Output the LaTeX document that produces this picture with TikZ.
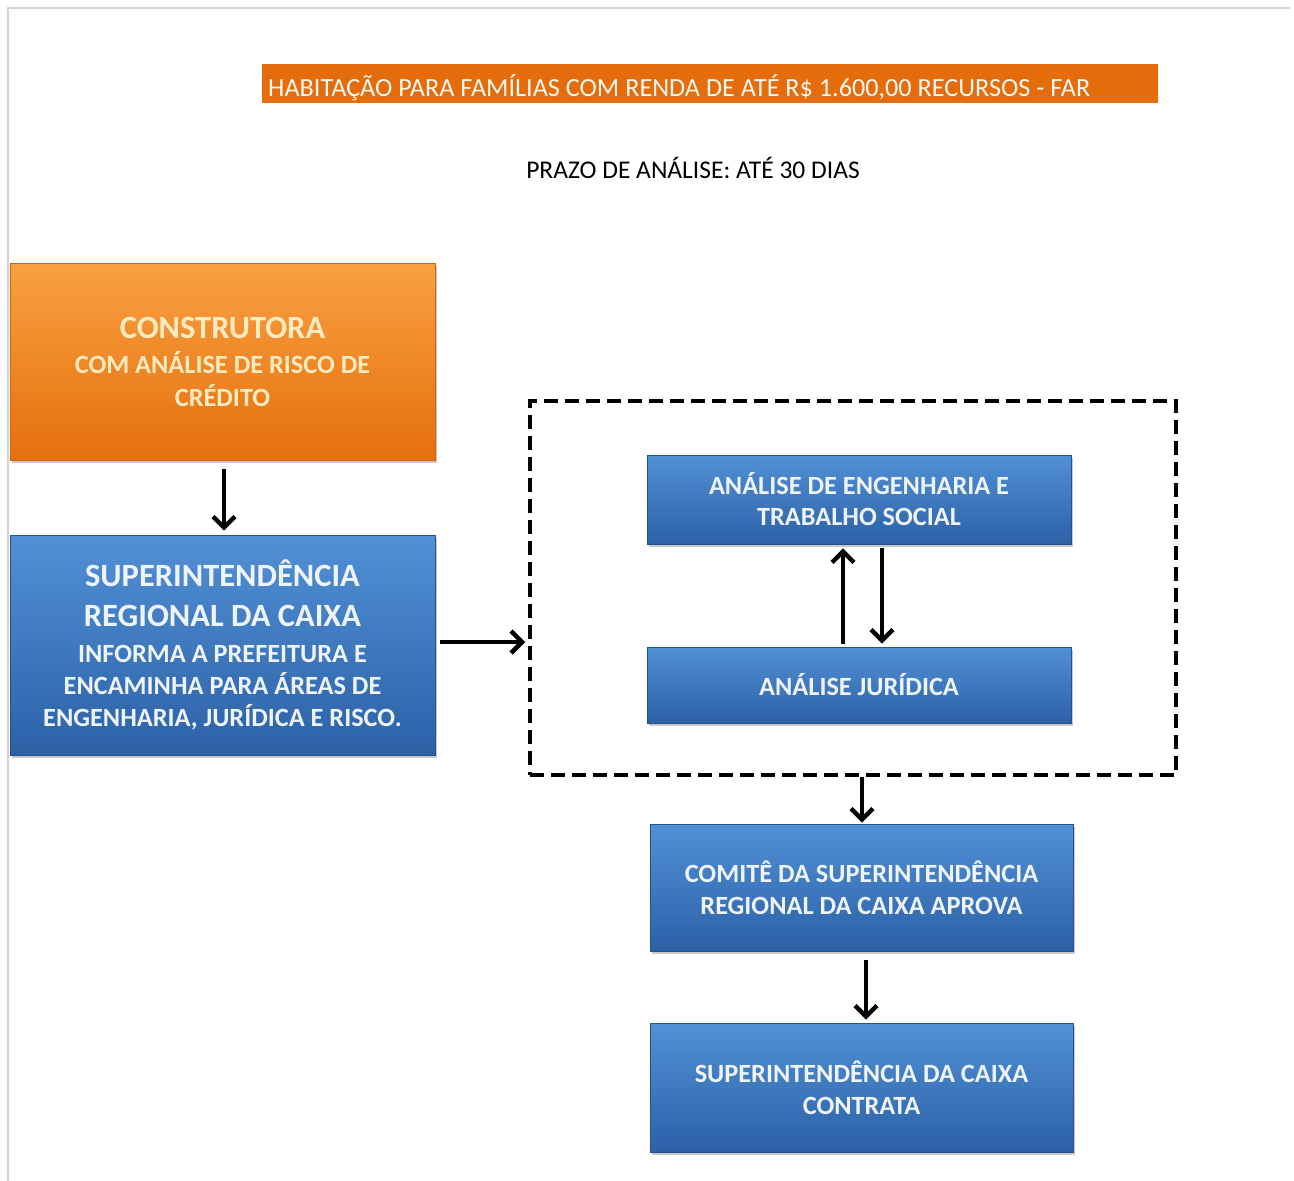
\documentclass[tikz,border=0pt]{standalone}
\usepackage{fontspec}
\setmainfont{Carlito}
\usetikzlibrary{arrows.meta,shadows,calc}
\definecolor{orangeT}{HTML}{F9A043}
\definecolor{orangeB}{HTML}{E5700C}
\definecolor{blueT}{HTML}{5290D6}
\definecolor{blueB}{HTML}{2C61A6}
\definecolor{banner}{HTML}{E46C0A}
\definecolor{paleY}{HTML}{FDEBC0}
\definecolor{paleW}{HTML}{EEF4FA}
\definecolor{edge}{HTML}{D4D4D4}
\tikzset{
  box/.style={rectangle, inner sep=0pt, align=center, font=\fontsize{26.3}{32}\selectfont\bfseries,
    drop shadow={shadow xshift=2pt, shadow yshift=-3pt, opacity=0.35, fill=black!60}},
  orbox/.style={box, top color=orangeT, bottom color=orangeB, draw=orangeB!90!black, line width=0.6pt, text=paleY},
  bluebox/.style={box, top color=blueT, bottom color=blueB, draw=blueB!85!black, line width=0.6pt, text=paleW},
  flow/.style={line width=4.5pt, -{Straight Barb[length=11pt, width=22pt, line width=4.5pt]}},
  grp/.style={rectangle, draw=black, line width=3.5pt, dash pattern=on 14pt off 7pt, inner sep=0pt}
}
\newcommand{\bigline}[1]{{\fontsize{32.5}{32}\selectfont #1}}
\begin{document}
\begin{tikzpicture}[x=1pt, y=1pt]
\useasboundingbox (0,0) rectangle (1294,-1181);
\fill[white] (0,0) rectangle (1294,-1181);
\draw[edge, line width=1.5pt] (8,-1181) -- (8,-8) -- (1290,-8);

% banner and subtitle
\node[rectangle, fill=banner, minimum width=896pt, minimum height=39pt, inner sep=0pt, anchor=north west] (banner) at (262,-64) {};
\node[anchor=west, inner sep=0pt, text=white!95!banner, font=\fontsize{26.2}{30}\selectfont] (title) at (268,-88)
  {HABITAÇÃO PARA FAMÍLIAS COM RENDA DE ATÉ R\$ 1.600,00 RECURSOS - FAR};
\node[inner sep=0pt, font=\fontsize{25.5}{30}\selectfont] (prazo) at (693,-168) {PRAZO DE ANÁLISE: ATÉ 30 DIAS};

% left column
\node[orbox, minimum width=425pt, minimum height=197pt] (constr) at (222.5,-361.5)
  {\bigline{CONSTRUTORA}\\[3pt]
   COM ANÁLISE DE RISCO DE\\[1pt]
   CRÉDITO};
\node[bluebox, minimum width=425pt, minimum height=220pt] (sup) at (222.5,-645)
  {\bigline{SUPERINTENDÊNCIA}\\[8pt]
   \bigline{REGIONAL DA CAIXA}\\[4pt]
   INFORMA A PREFEITURA  E\\
   ENCAMINHA PARA ÁREAS DE\\
   ENGENHARIA, JURÍDICA E RISCO.};

% group
\node[grp, minimum width=646pt, minimum height=374pt] (group) at (853,-588) {};
\node[bluebox, minimum width=424pt, minimum height=89pt] (eng) at (859,-499.5)
  {ANÁLISE DE ENGENHARIA  E\\[-1pt]
   TRABALHO  SOCIAL};
\node[bluebox, minimum width=424pt, minimum height=76pt] (jur) at (859,-685)
  {ANÁLISE JURÍDICA};

% right column
\node[bluebox, minimum width=423pt, minimum height=127pt] (comite) at (861.5,-887.5)
  {COMITÊ DA SUPERINTENDÊNCIA\\
   REGIONAL DA CAIXA APROVA};
\node[bluebox, minimum width=423pt, minimum height=129pt] (contrata) at (861.5,-1087.5)
  {SUPERINTENDÊNCIA DA CAIXA\\
   CONTRATA};

% connectors
\draw[flow] ($(constr.south)+(1.5,-9)$) -- ($(sup.north)+(1.5,4)$);
\draw[flow] ($(sup.east)+(5,3)$) -- ($(sup.east -| group.west)+(-3,3)$);
\draw[flow] ($(jur.north)+(-16,3)$) -- ($(eng.south)+(-16,-4)$);
\draw[flow] ($(eng.south)+(23,-4)$) -- ($(jur.north)+(23,3)$);
\draw[flow] ($(group.south)+(9,0)$) -- ($(comite.north)+(0.5,1)$);
\draw[flow] ($(comite.south)+(4.5,-9)$) -- ($(contrata.north)+(4.5,3)$);
\end{tikzpicture}
\end{document}
